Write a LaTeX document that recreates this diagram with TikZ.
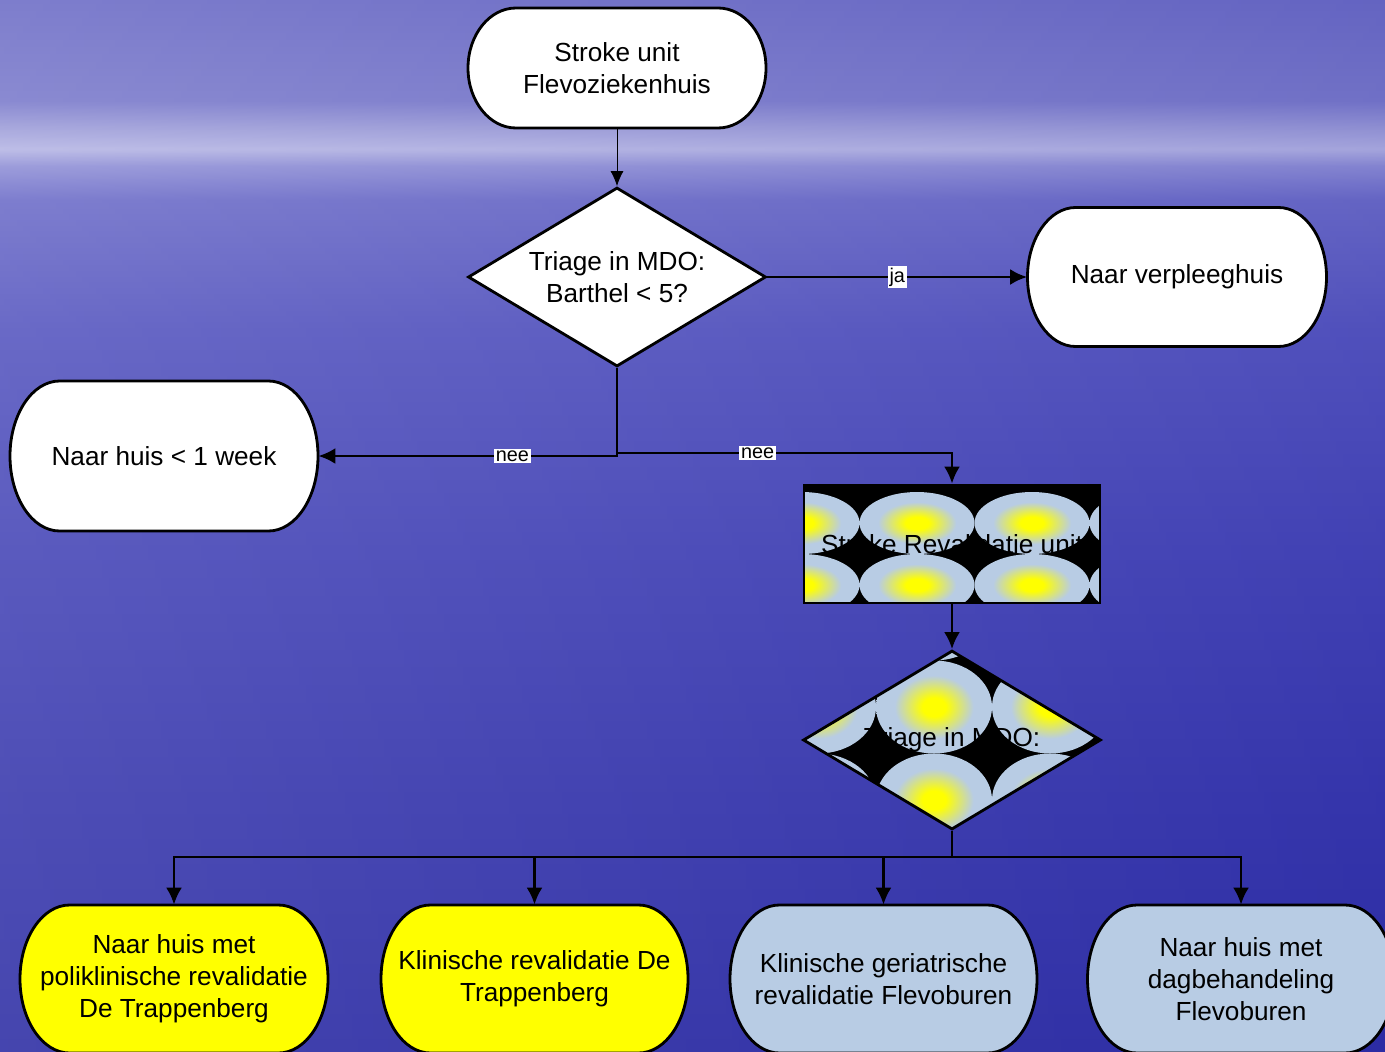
\documentclass[tikz,border=0pt]{standalone}
\usepackage{fontspec}
\setmainfont{Liberation Sans}
\usetikzlibrary{arrows.meta, positioning, shapes.geometric, calc}

\definecolor{paleblue}{HTML}{B8CCE4}
\definecolor{signyellow}{HTML}{FFFF00}
\definecolor{seabot}{HTML}{2C2CA4}
\definecolor{seadeep}{HTML}{3636AC}
\definecolor{seamid}{HTML}{4444B6}
\definecolor{seahigh}{HTML}{5555BF}
\definecolor{horizon}{HTML}{6C6CC8}
\definecolor{haze}{HTML}{8F8FD6}
\definecolor{hazelight}{HTML}{B5B5E4}
\definecolor{hazeband}{HTML}{A0A0DA}
\definecolor{skylow}{HTML}{7A7ACB}
\definecolor{skytop}{HTML}{6C6CC6}

\pgfdeclareverticalshading{seasky}{100bp}{color(0bp)=(seabot); color(25bp)=(seabot);
  color(36.9bp)=(seadeep); color(48.8bp)=(seamid); color(59.3bp)=(seahigh);
  color(65.5bp)=(horizon); color(67.1bp)=(haze); color(67.9bp)=(hazelight);
  color(68.8bp)=(hazeband); color(70.2bp)=(skylow); color(75bp)=(skytop); color(100bp)=(skytop)}
\pgfdeclareradialshading{glow}{\pgfpoint{0bp}{0bp}}{color(0bp)=(signyellow);
  color(5bp)=(signyellow); color(17bp)=(paleblue); color(50bp)=(paleblue)}

% terminator: [fill]{name}{x}{y}{width}{height}{text}, pixel units
\newcommand{\terminal}[7][white]{%
  \filldraw[fill=#1, line width=1.6pt] (#3-#5/2+0.161*#5,-#4+#6/2) -- (#3+#5/2-0.161*#5,-#4+#6/2)
    arc[start angle=90, end angle=-90, x radius=0.161*#5, y radius=#6/2]
    -- (#3-#5/2+0.161*#5,-#4-#6/2)
    arc[start angle=270, end angle=90, x radius=0.161*#5, y radius=#6/2] -- cycle;
  \node[termnode, minimum width=#5*0.02cm, minimum height=#6*0.02cm] (#2) at (#3,-#4) {#7};}

\begin{document}
\begin{tikzpicture}[x=0.02cm, y=0.02cm, >={Latex[length=3.4mm, width=3.2mm]}, font=\fontsize{14.9}{18.1}\selectfont]
  \tikzstyle{termnode}=[align=center, inner sep=0pt]
  \tikzstyle{choice}=[diamond, draw, line width=1.6pt, aspect=1.66, inner sep=0pt, align=center, minimum width=5.96cm, minimum height=3.58cm]
  \tikzstyle{link}=[line width=1.6pt]
  \tikzstyle{lbl}=[fill=white, inner sep=1pt, font=\fontsize{11.3}{13}\selectfont]

  \useasboundingbox (0,0) rectangle (1385,-1051);
  \shade[shading=seasky] (0,0) rectangle (1385,-1051);
  \shade[left color=white, right color=seabot, opacity=0.12] (0,0) rectangle (1385,-1051);

  \terminal{stroke}{617}{68}{298}{120}{Stroke unit\\Flevoziekenhuis}
  \node[choice, fill=white] (triage) at (617,-277) {Triage in MDO:\\Barthel < 5?};
  \terminal{verpleeg}{1177}{277}{299}{139}{Naar verpleeghuis}
  \terminal{huisweek}{164}{456}{308}{150}{Naar huis < 1 week}

  % patterned fills under the revalidation unit and the second triage
  \begin{scope}
    \clip (804,-485) rectangle (1100,-603);
    \fill[black] (804,-485) rectangle (1100,-603);
    \foreach \cx in {802,917,1032,1147} \foreach \cy in {523,585,647}
      \shade[shading=glow] (\cx,-\cy) ellipse [x radius=57.5, y radius=31];
  \end{scope}
  \begin{scope}
    \clip (803,-740) -- (952,-651) -- (1101,-740) -- (952,-829) -- cycle;
    \fill[black] (803,-651) rectangle (1101,-829);
    \foreach \cx in {818,934,1050} \foreach \cy in {614,707,800}
      \shade[shading=glow] (\cx,-\cy) ellipse [x radius=58, y radius=46.5];
  \end{scope}

  \node[draw, line width=1.6pt, minimum width=5.92cm, minimum height=2.36cm, inner sep=0pt] (revunit) at (952,-544) {Stroke Revalidatie unit};
  \node[choice] (triagetwo) at (952,-740) {Triage in MDO:};

  \terminal[signyellow]{polirev}{174}{979}{308}{148}{Naar huis met\\poliklinische revalidatie\\De Trappenberg}
  \terminal[signyellow]{klinrev}{534.5}{979}{307}{148}{Klinische revalidatie De\\Trappenberg}
  \terminal[paleblue]{geriatr}{883.5}{979}{307}{148}{Klinische geriatrische\\revalidatie Flevoburen}
  \terminal[paleblue]{dagbeh}{1241}{979}{307}{148}{Naar huis met\\dagbehandeling\\Flevoburen}

  \coordinate (split) at (617,-453);
  \coordinate (fan) at (952,-857);

  \draw[-{Latex[length=3mm, width=2.6mm]}, line width=0.5pt] (stroke) -- (triage);
  \draw[link, ->] (triage.east) -- node[lbl] {ja} (verpleeg.west);
  \draw[link, ->] (triage.south) |- node[lbl, pos=0.675] {nee} (huisweek.east);
  \draw[link, ->] (split) -| node[lbl, pos=0.21] {nee} (revunit.north);
  \draw[link, ->] (revunit) -- (triagetwo);
  \draw[link] (triagetwo.south) -- (fan);
  \foreach \n in {polirev, klinrev, geriatr, dagbeh}
    \draw[link, ->] (fan) -| (\n.north);
\end{tikzpicture}
\end{document}
